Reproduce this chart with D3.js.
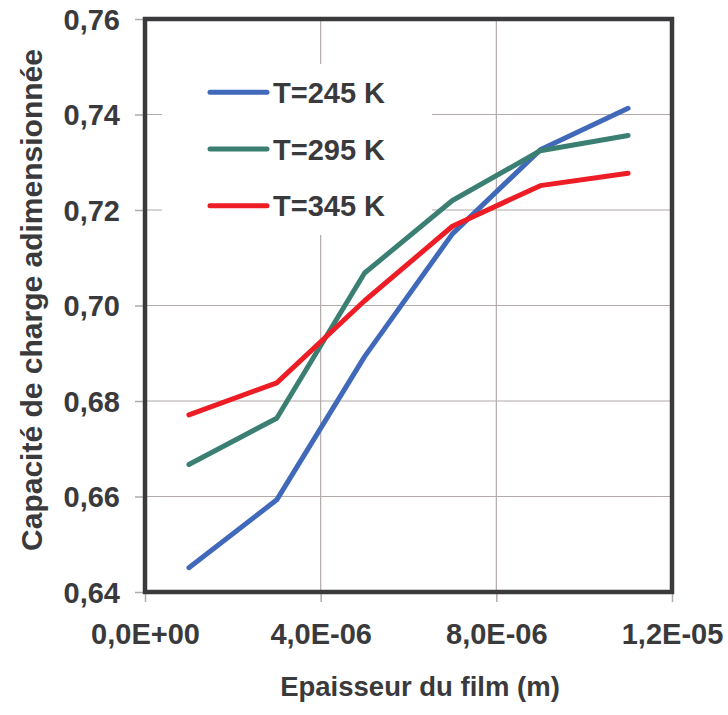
<!DOCTYPE html>
<html><head><meta charset="utf-8">
<script src="https://cdn.jsdelivr.net/npm/d3@7"></script>
<style>body{margin:0;background:#fff}svg{display:block}text{font-family:"Liberation Sans",Arial,sans-serif;font-weight:bold;fill:#3a3a3d}</style>
</head><body><svg id="c" width="728" height="715"></svg>
<script>
const thickness = [1e-6, 3e-6, 5e-6, 7e-6, 9e-6, 1.1e-5];
const seriesNames = ["T=245 K", "T=295 K", "T=345 K"];
const t245 = [0.6451, 0.6593, 0.6893, 0.7150, 0.7326, 0.7413];
const t295 = [0.6667, 0.6764, 0.7068, 0.7220, 0.7324, 0.7356];
const t345 = [0.6771, 0.6838, 0.7010, 0.7166, 0.7251, 0.7277];
const seriesColors = ["#4169b9", "#3b7f72", "#ee1c25"];
const xTicks = [0, 4e-6, 8e-6, 1.2e-5];
const xTickLabels = ["0,0E+00", "4,0E-06", "8,0E-06", "1,2E-05"];
const yTicks = [0.64, 0.66, 0.68, 0.70, 0.72, 0.74, 0.76];
const xTitle = "Epaisseur du film (m)";
const yTitle = "Capacité de charge adimensionnée";

const svg = d3.select("#c");
const L = 145, R = 672, T = 19, B = 592;
const x = d3.scaleLinear().domain([0, 1.2e-5]).range([L, R]);
const y = d3.scaleLinear().domain([0.64, 0.76]).range([B, T]);
const grid = "#b3aaaa";

// gridlines
svg.append("g").selectAll("line").data(yTicks.slice(1, -1)).join("line")
  .attr("x1", L).attr("x2", R).attr("y1", d => y(d)).attr("y2", d => y(d))
  .attr("stroke", grid).attr("stroke-width", 1.2);
svg.append("g").selectAll("line").data(xTicks.slice(1, -1)).join("line")
  .attr("x1", d => x(d)).attr("x2", d => x(d)).attr("y1", T).attr("y2", B)
  .attr("stroke", grid).attr("stroke-width", 1.2);

// axes
const yAxis = d3.axisLeft(y).tickValues(yTicks).tickSize(10).tickPadding(15)
  .tickFormat(d => d3.format(".2f")(d).replace(".", ","));
const gy = svg.append("g").attr("transform", `translate(${L},0)`).call(yAxis);
gy.select(".domain").remove();
gy.selectAll(".tick line").attr("stroke", grid).attr("stroke-width", 1.5);
gy.selectAll(".tick text").style("font-size", "29px").attr("dy", "0.36em");

const xAxis = d3.axisBottom(x).tickValues(xTicks).tickSize(10).tickPadding(21)
  .tickFormat((d, i) => xTickLabels[i]);
const gx = svg.append("g").attr("transform", `translate(0,${B})`).call(xAxis);
gx.select(".domain").remove();
gx.selectAll(".tick line").attr("stroke", grid).attr("stroke-width", 1.5);
gx.selectAll(".tick text").style("font-size", "29px");

// legend background
svg.append("rect").attr("x", 162).attr("y", 64).attr("width", 270).attr("height", 171).attr("fill", "#fff");

// frame
svg.append("rect").attr("x", L).attr("y", T).attr("width", R - L).attr("height", B - T)
  .attr("fill", "none").attr("stroke", "#3a3a3d").attr("stroke-width", 4.5);

// lines
const allSeries = [t245, t295, t345];
const line = d3.line().x((d, i) => x(thickness[i])).y(d => y(d));
svg.append("g").selectAll("path").data(allSeries).join("path")
  .attr("d", d => line(d)).attr("fill", "none")
  .attr("stroke", (d, i) => seriesColors[i]).attr("stroke-width", 5)
  .attr("stroke-linecap", "round").attr("stroke-linejoin", "round");

// legend
const lg = svg.append("g").selectAll("g").data(seriesNames).join("g")
  .attr("transform", (d, i) => `translate(210,${92.3 + i * 56.7})`);
lg.append("line").attr("x1", 0).attr("x2", 57).attr("y1", 0).attr("y2", 0)
  .attr("stroke", (d, i) => seriesColors[i]).attr("stroke-width", 5).attr("stroke-linecap", "round");
lg.append("text").attr("x", 63).attr("y", 10.5).style("font-size", "29px").text(d => d);

// titles
svg.append("text").attr("x", 420).attr("y", 696).attr("text-anchor", "middle")
  .style("font-size", "27.5px").text(xTitle);
svg.append("text").attr("transform", "translate(42,300) rotate(-90)").attr("text-anchor", "middle")
  .style("font-size", "30px").text(yTitle);
</script></body></html>
